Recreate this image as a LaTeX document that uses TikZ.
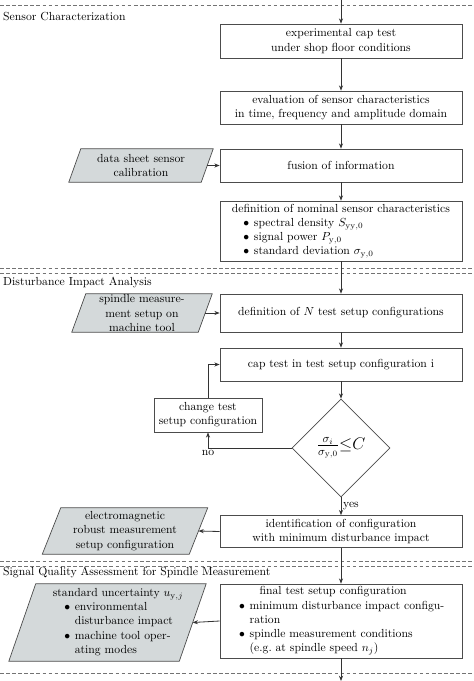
\documentclass[tikz,border=0pt]{standalone}
\usetikzlibrary{shapes.geometric,arrows.meta,backgrounds}
\def\PX{0.855pt}
\newcommand{\bitem}[2]{\makebox[#1][r]{$\bullet$\hspace{4pt}}#2}
\newcommand{\bcont}[2]{\makebox[#1]{}#2}
\definecolor{paragray}{RGB}{212,217,218}
% parallelogram drawn around the mid-line rectangle of a node: #1 node, #2 half slant (pt)
\newcommand{\paral}[2]{%
  \begin{scope}[on background layer]
  \draw[parashape] ([xshift=#2]#1.north west) -- ([xshift=#2]#1.north east)
     -- ([xshift=-#2]#1.south east) -- ([xshift=-#2]#1.south west) -- cycle;
  \end{scope}}
\begin{document}
\begin{tikzpicture}[x=\PX,y=-\PX,
  font=\fontsize{10}{12.2}\selectfont,
  box/.style={draw=black!70, line width=0.6pt, fill=white, minimum width=242*\PX, align=center, inner sep=2pt},
  para/.style={rectangle, align=center, inner sep=0pt},
  parashape/.style={draw=black!70, fill=paragray, line width=0.6pt},
  arr/.style={-{Stealth[length=4.5pt,width=3.5pt]}, line width=0.7pt, draw=black!80},
  sep/.style={dash pattern=on 3.2pt off 2pt, draw=black!55, line width=0.6pt},
  sect/.style={anchor=west, inner sep=0pt}]
\useasboundingbox (0,0) rectangle (474,681);

% section separators
\coordinate (s0l) at (0,5);   \coordinate (s0r) at (474,5);
\coordinate (s1l) at (0,268); \coordinate (s1r) at (474,268);
\coordinate (s2l) at (0,273); \coordinate (s2r) at (474,273);
\coordinate (s3l) at (0,561); \coordinate (s3r) at (474,561);
\coordinate (s4l) at (0,566); \coordinate (s4r) at (474,566);
\coordinate (s5l) at (0,673); \coordinate (s5r) at (474,673);
\draw[sep] (s0l) -- (s0r);
\draw[sep] (s1l) -- (s1r);
\draw[sep] (s2l) -- (s2r);
\draw[sep] (s3l) -- (s3r);
\draw[sep] (s4l) -- (s4r);
\draw[sep] (s5l) -- (s5r);

\node[sect] (t1) at (3,17) {Sensor Characterization};
\node[sect] (t2) at (3,283) {Disturbance Impact Analysis};
\node[sect] (t3) at (3,573) {Signal Quality Assessment for Spindle Measurement};

% section 1
\node[box, minimum height=34*\PX] (b1) at (341,41) {experimental cap test\\under shop floor conditions};
\node[box, minimum height=33*\PX] (b2) at (341,107.5) {evaluation of sensor characteristics\\in time, frequency and amplitude domain};
\node[box, minimum height=33*\PX] (fus) at (341,165.5) {fusion of information};
\node[box, minimum height=60*\PX, align=left] (def) at (341,231) {definition of nominal sensor characteristics\\
  \bitem{18.8pt}{spectral density $S_{\mathrm{yy},0}$}\\
  \bitem{18.8pt}{signal power $P_{\mathrm{y},0}$}\\
  \bitem{18.8pt}{standard deviation $\sigma_{\mathrm{y},0}$}};
\node[para, minimum width=132*\PX, minimum height=33*\PX] (ds) at (141,165.5) {data sheet sensor\\calibration};
\paral{ds}{5.13pt}

% section 2
\node[box, minimum height=38*\PX] (nt) at (341,313) {definition of $N$ test setup configurations};
\node[para, minimum width=126*\PX, minimum height=38*\PX] (sp) at (142,313) {spindle measure-\\ment setup on\\machine tool};
\paral{sp}{5.99pt}
\node[box, minimum height=33*\PX] (cap) at (341,364.5) {cap test in test setup configuration i};
\node[box, minimum width=108*\PX, minimum height=34*\PX] (chg) at (208,415) {change test\\setup configuration};
\node[diamond, draw=black!70, line width=0.6pt, fill=white, minimum width=98*\PX, minimum height=98*\PX, inner sep=0pt] (dia) at (341,448)
  {\Large$\frac{\sigma_i}{\sigma_{\mathrm{y},0}}\mathord{\leq}C$};
\node[box, minimum height=32*\PX] (id) at (341,531.5) {identification of configuration\\with minimum disturbance impact};
\node[para, minimum width=146.5*\PX, minimum height=46*\PX] (em) at (125,531) {electromagnetic\\robust measurement\\setup configuration};
\paral{em}{7.9pt}

% section 3
\node[box, minimum height=74*\PX, align=left] (fin) at (341,621) {\hspace*{18.8pt}final test setup configuration\\
  \bitem{10.3pt}{minimum disturbance impact configu-}\\
  \bcont{10.3pt}{ration}\\
  \bitem{10.3pt}{spindle measurement conditions}\\
  \bcont{10.3pt}{(e.g.\ at spindle speed $n_j$)}};
\node[para, minimum width=170*\PX, minimum height=77*\PX] (std) at (107.5,622.5) {};
\paral{std}{11.5pt}
\node[align=left, inner sep=0pt] (stdt) at (118,622) {standard uncertainty $u_{\mathrm{y},j}$\\
  \bitem{18.8pt}{environmental}\\
  \bcont{18.8pt}{disturbance impact}\\
  \bitem{18.8pt}{machine tool oper-}\\
  \bcont{18.8pt}{ating modes}};

% connectors
\coordinate (top) at (341,0);
\coordinate (bot) at (341,681);
\draw[arr] (top) -- (b1);
\draw[arr] (b1) -- (b2);
\draw[arr] (b2) -- (fus);
\draw[arr] (ds) -- (fus);
\draw[arr] (fus) -- (def);
\draw[arr] (def) -- (nt);
\draw[arr] (sp) -- (nt);
\draw[arr] (nt) -- (cap);
\draw[arr] (cap) -- (dia);
\draw[arr] (dia.west) -| node[pos=0.5, below, inner sep=2pt] {no} (chg.south);
\draw[arr] (chg.north) |- (cap.west);
\draw[arr] (dia.south) -- node[right, inner sep=1.5pt] {yes} (id.north);
\draw[arr] (id.west) -- (em.east);
\draw[arr] (id) -- (fin);
\draw[arr] (fin.west) -- (std.east);
\draw[arr] (fin) -- (bot);
\end{tikzpicture}
\end{document}
